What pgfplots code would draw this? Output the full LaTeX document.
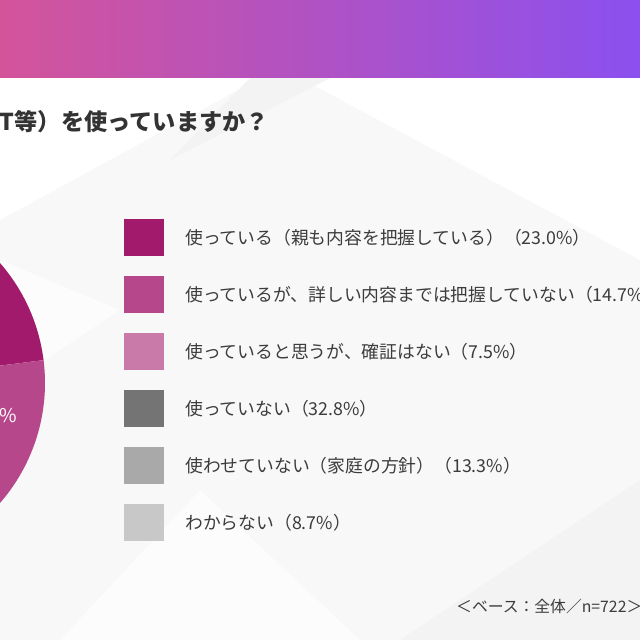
\documentclass[border=0pt]{standalone}
\usepackage{pgfplots}
\pgfplotsset{compat=1.18}
\usepackage{pgfplotstable}
\usepackage{fontspec}
\setmainfont{Noto Sans CJK JP}

\definecolor{pc0}{HTML}{A21A6B}
\definecolor{pc1}{HTML}{B6478A}
\definecolor{pc2}{HTML}{C97AA9}
\definecolor{pc3}{HTML}{747474}
\definecolor{pc4}{HTML}{A9A9A9}
\definecolor{pc5}{HTML}{C8C8C8}
\definecolor{hl}{HTML}{D4549A}
\definecolor{hr}{HTML}{8B50EF}
\definecolor{txt}{HTML}{3C3C3C}
\definecolor{ttl}{HTML}{333333}
\definecolor{bg}{HTML}{F8F8F8}
\definecolor{bgd}{HTML}{F3F3F3}

\newcommand\legfont{\fontsize{17.8}{20}\selectfont}
\newcommand\titlefont{\fontsize{23.2}{26}\selectfont\bfseries}
\newcommand\pielabfont{\fontsize{19}{22}\selectfont}
\newcommand\footfont{\fontsize{15.8}{18}\selectfont}

\pgfplotstableread{
val
23.0
14.7
7.5
32.8
13.3
8.7
}\piedata

\expandafter\def\csname lab0\endcsname{使っている（親も内容を把握している）}
\expandafter\def\csname lab1\endcsname{使っているが、詳しい内容までは把握していない}
\expandafter\def\csname lab2\endcsname{使っていると思うが、確証はない}
\expandafter\def\csname lab3\endcsname{使っていない}
\expandafter\def\csname lab4\endcsname{使わせていない（家庭の方針）}
\expandafter\def\csname lab5\endcsname{わからない}

\begin{document}
\begin{tikzpicture}
\def\cum{0}
\pgfplotsforeachungrouped \i in {0,...,5}{%
  \pgfplotstablegetelem{\i}{val}\of\piedata
  \let\val\pgfplotsretval
  \expandafter\xdef\csname v\i\endcsname{\val}%
  \pgfmathsetmacro\sa{90-3.6*\cum}%
  \pgfmathsetmacro\cum{\cum+\val}%
  \pgfmathsetmacro\ea{90-3.6*\cum}%
  \pgfmathsetmacro\ma{(\sa+\ea)/2+5}%
  \pgfmathsetmacro\ly{640-238-57*\i}%
  \pgfmathsetmacro\lyb{\ly-18.5}%
  \pgfmathsetmacro\lyt{\ly+18.5}%
  \expandafter\xdef\csname ps\i\endcsname{\sa}%
  \expandafter\xdef\csname pe\i\endcsname{\ea}%
  \expandafter\xdef\csname pm\i\endcsname{\ma}%
  \expandafter\xdef\csname ly\i\endcsname{\ly}%
  \expandafter\xdef\csname lyb\i\endcsname{\lyb}%
  \expandafter\xdef\csname lyt\i\endcsname{\lyt}%
}
\begin{axis}[
  hide axis, x=1pt, y=1pt,
  xmin=0, xmax=640, ymin=0, ymax=640,
  clip=true, scale only axis,
]
% background
\fill[bg] (axis cs:0,0) rectangle (axis cs:640,562);
\fill[white] (axis cs:0,562) -- (axis cs:260,562) -- (axis cs:0,420) -- cycle;
\fill[white] (axis cs:300,562) -- (axis cs:640,562) -- (axis cs:640,380) -- cycle;
\fill[bgd] (axis cs:170,480) -- (axis cs:330,562) -- (axis cs:250,562) -- cycle;
\fill[white!60!bg] (axis cs:60,0) -- (axis cs:360,0) -- (axis cs:200,150) -- cycle;
\fill[bgd] (axis cs:400,0) -- (axis cs:640,0) -- (axis cs:640,160) -- cycle;
\fill[white!60!bg] (axis cs:0,250) -- (axis cs:120,330) -- (axis cs:0,380) -- cycle;
% header
\shade[left color=hl, right color=hr] (axis cs:0,562) rectangle (axis cs:640,640);
% title
\node[anchor=east, font=\titlefont, text=ttl, inner sep=0pt] at (axis cs:269,518) {T等）を使っていますか？};
% pie slices
\pgfplotsinvokeforeach{0,...,5}{%
  \edef\tmp{\noexpand\fill[pc#1] (axis cs:-137.5,257) -- ++(\csname ps#1\endcsname:182.5pt) arc[start angle=\csname ps#1\endcsname, end angle=\csname pe#1\endcsname, radius=182.5pt] -- cycle;}\tmp
}
\pgfplotsinvokeforeach{0,...,5}{%
  \edef\tmp{\noexpand\path (axis cs:-137.5,257) ++(\csname pm#1\endcsname:131pt) node[text=white, font=\noexpand\pielabfont] {\csname v#1\endcsname\noexpand\%};}\tmp
}
% legend
\pgfplotsinvokeforeach{0,...,5}{%
  \edef\tmp{\noexpand\fill[pc#1] (axis cs:124,\csname lyb#1\endcsname) rectangle (axis cs:164,\csname lyt#1\endcsname);}\tmp
  \edef\tmp{\noexpand\node[anchor=west, text=txt, font=\noexpand\legfont, inner sep=0pt] at (axis cs:185,\csname ly#1\endcsname) {\csname lab#1\endcsname（\csname v#1\endcsname\noexpand\%）};}\tmp
}
% footer
\node[anchor=west, text=txt, font=\footfont, inner sep=0pt] at (axis cs:456,34) {＜ベース：全体／n=722＞};
\coordinate (ll) at (axis cs:0,0);
\coordinate (ur) at (axis cs:640,640);
\end{axis}
\pgfresetboundingbox
\useasboundingbox (ll) rectangle (ur);
\end{tikzpicture}
\end{document}
